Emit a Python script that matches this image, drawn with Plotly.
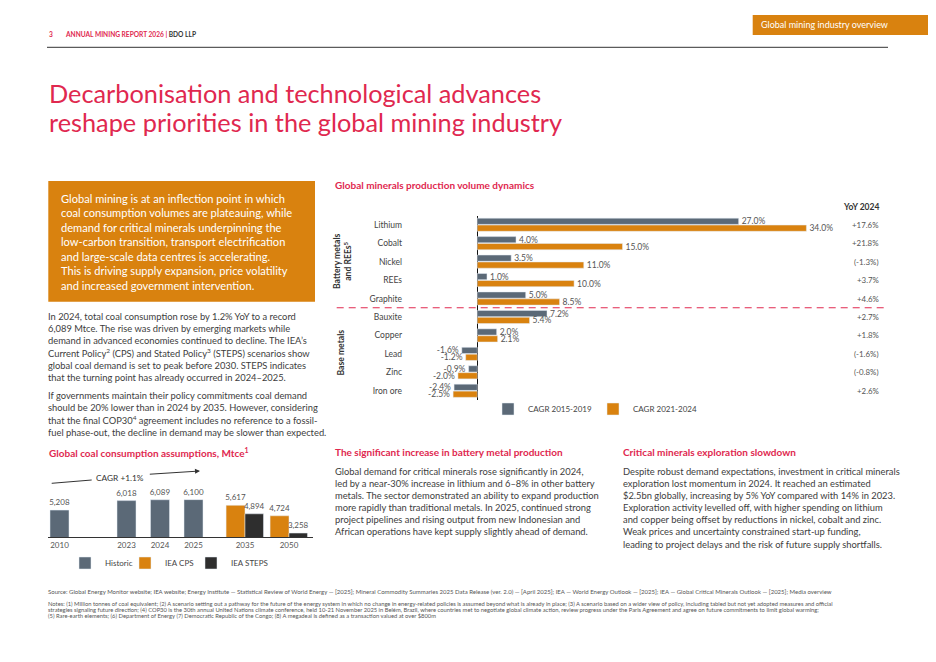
import plotly.graph_objects as go

# the page puts the plot 8px in from the top-left corner, so the figure is
# made 8px smaller and every position below is given in page pixels
W, H = 936, 662
OFF = 8
FW, FH = W - OFF, H - OFF
FONT = "Lato"
RED = "#e0284f"
ORANGE = "#d9820f"
SLATE = "#5b6977"
DARK = "#2e2e2e"
TEXT = "#3d3d3d"
GREY = "#555555"

# global minerals production volume dynamics (%)
minerals = ["Lithium", "Cobalt", "Nickel", "REEs", "Graphite",
            "Bauxite", "Copper", "Lead", "Zinc", "Iron ore"]
cagr_2015_2019 = [27.0, 4.0, 3.5, 1.0, 5.0, 7.2, 2.0, -1.6, -0.9, -2.4]
cagr_2021_2024 = [34.0, 15.0, 11.0, 10.0, 8.5, 5.4, 2.1, -1.2, -2.0, -2.5]
yoy_2024 = ["+17.6%", "+21.8%", "(-1.3%)", "+3.7%", "+4.6%",
            "+2.7%", "+1.8%", "(-1.6%)", "(-0.8%)", "+2.6%"]

# global coal consumption, Mtce
coal_hist_years = ["2010", "2023", "2024", "2025"]
coal_hist = [5208, 6018, 6089, 6100]
coal_proj_years = ["2035", "2050"]
coal_cps = [5617, 4724]
coal_steps = [4894, 3258]


def px(x):
    return (x - OFF) / FW


def py(y):
    return 1 - (y - OFF) / FH


def add_lines(fig, lines, x, y0, step, size, color, bold=False):
    for i, line in enumerate(lines):
        fig.add_annotation(text="<b>%s</b>" % line if bold else line,
                           x=px(x), y=py(y0 + i * step), xref="paper", yref="paper",
                           xanchor="left", yanchor="middle", showarrow=False,
                           font=dict(family=FONT, size=size, color=color))


fig = go.Figure()

# ---- minerals bars
fig.add_trace(go.Bar(y=minerals, x=cagr_2015_2019, orientation="h", name="CAGR 2015-2019",
                     marker_color=SLATE, texttemplate="%{x:.1f}%", textposition="outside",
                     constraintext="none", cliponaxis=False,
                     textfont=dict(family=FONT, size=8.5, color=GREY),
                     xaxis="x", yaxis="y", legend="legend", legendwidth=60))
fig.add_trace(go.Bar(y=minerals, x=cagr_2021_2024, orientation="h", name="CAGR 2021-2024",
                     marker_color=ORANGE, texttemplate="%{x:.1f}%", textposition="outside",
                     constraintext="none", cliponaxis=False,
                     textfont=dict(family=FONT, size=8.5, color=GREY),
                     xaxis="x", yaxis="y", legend="legend", legendwidth=70))

# ---- coal bars (history and projections on their own category axes)
fig.add_trace(go.Bar(x=coal_hist_years, y=coal_hist, name="Historic", marker_color=SLATE,
                     width=0.567, offset=-0.2835, texttemplate="%{y:,}", textposition="outside",
                     constraintext="none", cliponaxis=False,
                     textfont=dict(family=FONT, size=8, color=GREY),
                     xaxis="x2", yaxis="y2", legend="legend2", legendwidth=15))
fig.add_trace(go.Bar(x=coal_proj_years, y=coal_cps, name="IEA CPS", marker_color=ORANGE,
                     width=0.43, offset=-0.43, texttemplate="%{y:,}", textposition="outside",
                     constraintext="none", cliponaxis=False,
                     textfont=dict(family=FONT, size=8, color=GREY),
                     xaxis="x3", yaxis="y2", legend="legend2", legendwidth=21))
fig.add_trace(go.Bar(x=coal_proj_years, y=coal_steps, name="IEA STEPS", marker_color=DARK,
                     width=0.42, offset=0, texttemplate="%{y:,}", textposition="outside",
                     constraintext="none", cliponaxis=False,
                     textfont=dict(family=FONT, size=8, color=GREY),
                     xaxis="x3", yaxis="y2", legend="legend2", legendwidth=50))

# minerals axis: 9.68 px per percentage point, zero at x=477
ppp = 9.68
x_left, x_right, x_zero = 408, 855, 477.3
coal_k = 0.01175  # px per Mtce, axis floor ~2920
coal_top, coal_base = 465, 537

fig.update_layout(
    width=FW, height=FH, margin=dict(l=0, r=0, t=0, b=0),
    paper_bgcolor="white", plot_bgcolor="white",
    font=dict(family=FONT, color=TEXT),
    barmode="group", bargap=0.25, bargroupgap=0.1,
    xaxis=dict(domain=[px(x_left), px(x_right)],
               range=[(x_left - x_zero) / ppp, (x_right - x_zero) / ppp],
               showgrid=False, showticklabels=False, ticks="",
               zeroline=True, zerolinecolor="#111111", zerolinewidth=1.2),
    yaxis=dict(domain=[py(400), py(215.5)], autorange="reversed",
               showgrid=False, ticks="", ticklabelstandoff=5,
               tickfont=dict(family=FONT, size=8.5, color="#444444")),
    xaxis2=dict(domain=[px(48), px(210)], anchor="y2", type="category",
                categoryorder="array", categoryarray=["2010", " ", "2023", "2024", "2025"],
                range=[(48 - 59.5) / 33.5, (210 - 59.5) / 33.5],
                showline=True, linecolor="#333333", linewidth=1, ticks="", showgrid=False,
                tickfont=dict(family=FONT, size=8, color=GREY)),
    xaxis3=dict(domain=[px(210), px(313)], anchor="y2", type="category",
                categoryorder="array", categoryarray=coal_proj_years,
                range=[(210 - 245) / 44.0, (313 - 245) / 44.0],
                showline=True, linecolor="#333333", linewidth=1, ticks="", showgrid=False,
                tickfont=dict(family=FONT, size=8, color=GREY)),
    yaxis2=dict(domain=[py(coal_base), py(coal_top)], anchor="x2",
                range=[2920, 2920 + (coal_base - coal_top) / coal_k],
                visible=False),
    legend=dict(orientation="h", x=px(488), y=py(409), xanchor="left", yanchor="middle",
                bgcolor="rgba(0,0,0,0)",
                font=dict(family=FONT, size=8, color="#444444")),
    legend2=dict(orientation="h", x=px(65), y=py(563), xanchor="left", yanchor="middle",
                 bgcolor="rgba(0,0,0,0)",
                 font=dict(family=FONT, size=8, color="#444444")),
)

shapes = [
    # header rule and section tab
    dict(type="line", xref="paper", yref="paper", x0=px(47), x1=px(888), y0=py(47.3), y1=py(47.3),
         line=dict(color="#333333", width=1)),
    dict(type="rect", xref="paper", yref="paper", x0=px(752.7), x1=1, y0=py(35), y1=py(15),
         fillcolor=ORANGE, line_width=0),
    # orange summary box
    dict(type="rect", xref="paper", yref="paper", x0=px(48.3), x1=px(315), y0=py(301.7), y1=py(181),
         fillcolor=ORANGE, line_width=0),
    # split between battery metals and base metals
    dict(type="line", xref="paper", yref="y", x0=px(336.7), x1=px(886.7), y0=4.5, y1=4.5,
         line=dict(color=RED, width=1, dash="7px,5px")),
    # CAGR guide on coal chart
    dict(type="line", xref="paper", yref="paper", x0=px(51.7), x1=px(91.7), y0=py(483.3), y1=py(480),
         line=dict(color="#333333", width=1)),
]
fig.update_layout(shapes=shapes)

# header
fig.add_annotation(text="<b>3</b>", x=px(46.5), y=py(34.3), xref="paper", yref="paper",
                   xanchor="left", yanchor="middle", showarrow=False,
                   font=dict(family=FONT, size=6.6, color=RED))
fig.add_annotation(text="<b>ANNUAL MINING REPORT 2026 | <span style='color:#333333'>BDO LLP</span></b>",
                   x=px(62.5), y=py(34.3), xref="paper", yref="paper",
                   xanchor="left", yanchor="middle", showarrow=False,
                   font=dict(family=FONT, size=6.6, color=RED))
fig.add_annotation(text="Global mining industry overview", x=px(758.5), y=py(25), xref="paper", yref="paper",
                   xanchor="left", yanchor="middle", showarrow=False,
                   font=dict(family=FONT, size=9, color="white"))

# page title
add_lines(fig, ["Decarbonisation and technological advances",
                "reshape priorities in the global mining industry"],
          47, 93.3, 28.4, 25.3, RED)

# orange box text
add_lines(fig, ["Global mining is at an inflection point in which",
                "coal consumption volumes are plateauing, while",
                "demand for critical minerals underpinning the",
                "low-carbon transition, transport electrification",
                "and large-scale data centres is accelerating.",
                "This is driving supply expansion, price volatility",
                "and increased government intervention."],
          59, 198, 14.5, 11.1, "white")

# left column body
add_lines(fig, ["In 2024, total coal consumption rose by 1.2% YoY to a record",
                "6,089 Mtce. The rise was driven by emerging markets while",
                "demand in advanced economies continued to decline. The IEA’s",
                "Current Policy<sup>2</sup> (CPS) and Stated Policy<sup>3</sup> (STEPS) scenarios show",
                "global coal demand is set to peak before 2030. STEPS indicates",
                "that the turning point has already occurred in 2024–2025."],
          46, 316, 12.3, 9.35, TEXT)
add_lines(fig, ["If governments maintain their policy commitments coal demand",
                "should be 20% lower than in 2024 by 2035. However, considering",
                "that the final COP30<sup>4</sup> agreement includes no reference to a fossil-",
                "fuel phase-out, the decline in demand may be slower than expected."],
          46, 395.7, 12.2, 9.35, TEXT)

# chart titles
add_lines(fig, ["Global coal consumption assumptions, Mtce<sup>1</sup>"], 47, 452, 0, 10, RED, bold=True)
add_lines(fig, ["Global minerals production volume dynamics"], 332.5, 185, 0, 10, RED, bold=True)

# coal CAGR note and arrow (tail at x=148, head at x=200)
fig.add_annotation(text="CAGR +1.1%", x=px(120.3), y=py(477.7), xref="paper", yref="paper",
                   xanchor="center", yanchor="middle",
                   showarrow=False, font=dict(family=FONT, size=8.3, color="#333333"))
fig.add_annotation(text="", x=px(200), y=py(471), xref="paper", yref="paper",
                   ax=-51.7, ay=3.3, showarrow=True, arrowhead=2, arrowsize=1,
                   arrowwidth=1, arrowcolor="#333333")

# minerals group labels
fig.add_annotation(text="<b>Battery metals<br>and REEs<sup>5</sup></b>", x=px(343), y=py(261),
                   xref="paper", yref="paper", textangle=-90, showarrow=False,
                   font=dict(family=FONT, size=8.6, color="#333333"))
fig.add_annotation(text="<b>Base metals</b>", x=px(340), y=py(352.5),
                   xref="paper", yref="paper", textangle=-90, showarrow=False,
                   font=dict(family=FONT, size=8.6, color="#333333"))

# YoY column
fig.add_annotation(text="<b>YoY 2024</b>", x=px(881), y=py(206.7), xref="paper", yref="paper",
                   xanchor="right", yanchor="middle", showarrow=False,
                   font=dict(family=FONT, size=8.5, color="#333333"))
for m, v in zip(minerals, yoy_2024):
    fig.add_annotation(text=v, x=px(881), y=m, xref="paper", yref="y",
                       xanchor="right", yanchor="middle", showarrow=False,
                       font=dict(family=FONT, size=7.9, color=GREY))

# lower text columns
add_lines(fig, ["The significant increase in battery metal production"], 332.5, 451.7, 0, 10, RED, bold=True)
add_lines(fig, ["Global demand for critical minerals rose significantly in 2024,",
                "led by a near-30% increase in lithium and 6–8% in other battery",
                "metals. The sector demonstrated an ability to expand production",
                "more rapidly than traditional metals. In 2025, continued strong",
                "project pipelines and rising output from new Indonesian and",
                "African operations have kept supply slightly ahead of demand."],
          332.5, 471.7, 12.05, 9.35, TEXT)
add_lines(fig, ["Critical minerals exploration slowdown"], 621, 451.7, 0, 10, RED, bold=True)
add_lines(fig, ["Despite robust demand expectations, investment in critical minerals",
                "exploration lost momentum in 2024. It reached an estimated",
                "$2.5bn globally, increasing by 5% YoY compared with 14% in 2023.",
                "Exploration activity levelled off, with higher spending on lithium",
                "and copper being offset by reductions in nickel, cobalt and zinc.",
                "Weak prices and uncertainty constrained start-up funding,",
                "leading to project delays and the risk of future supply shortfalls."],
          621, 471.7, 12.05, 9.35, TEXT)

# footer
add_lines(fig, ["Source: Global Energy Monitor website; IEA website; Energy Institute — Statistical Review of World Energy — [2025]; "
                "Mineral Commodity Summaries 2025 Data Release (ver. 2.0) — [April 2025]; IEA — World Energy Outlook — [2025]; "
                "IEA — Global Critical Minerals Outlook — [2025]; Media overview"],
          46, 591, 0, 6.0, GREY)
add_lines(fig, ["Notes: (1) Million tonnes of coal equivalent; (2) A scenario setting out a pathway for the future of the energy system in which "
                "no change in energy-related policies is assumed beyond what is already in place; (3) A scenario based on a wider view of policy, "
                "including tabled but not yet adopted measures and official",
                "strategies signaling future direction; (4) COP30 is the 30th annual United Nations climate conference, held 10-21 November 2025 "
                "in Belém, Brazil, where countries met to negotiate global climate action, review progress under the Paris Agreement and agree "
                "on future commitments to limit global warming;",
                "(5) Rare-earth elements; (6) Department of Energy (7) Democratic Republic of the Congo; "
                "(8) A megadeal is defined as a transaction valued at over $800m"],
          46, 603, 6.1, 5.8, GREY)

fig.write_html("out.html")
